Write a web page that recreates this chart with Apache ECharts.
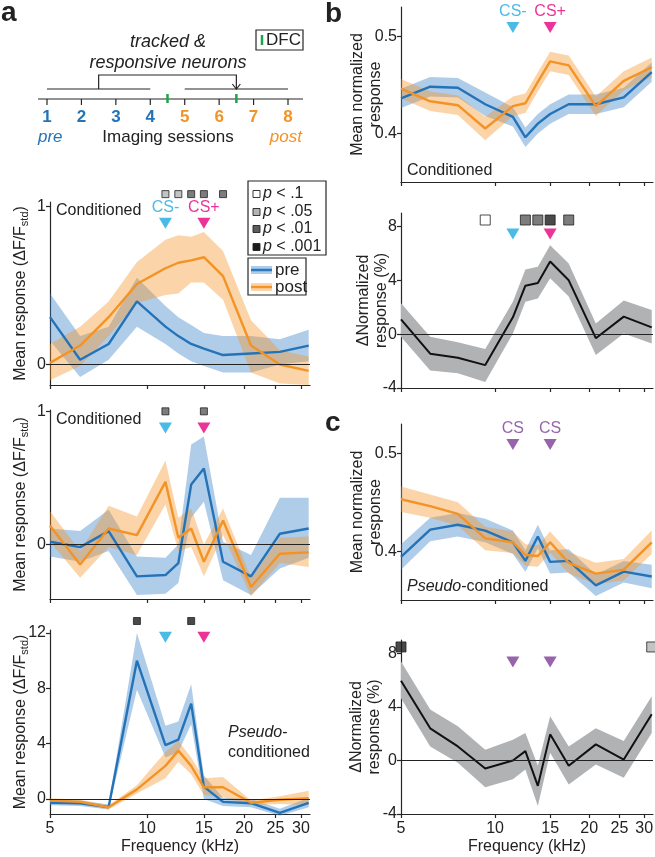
<!DOCTYPE html>
<html>
<head>
<meta charset="utf-8">
<script src="https://cdn.jsdelivr.net/npm/echarts@6/dist/echarts.min.js"></script>
<style>
  html, body { margin: 0; padding: 0; background: #fff; }
  #main { width: 655px; height: 857px; }
</style>
</head>
<body>
<div id="main"></div>
<script>
// frequencies (kHz) of the tones, shared by all panels
var freqs = [5, 6.2, 7.6, 9.3, 11.4, 12.5, 13.7, 15, 17.2, 21, 25.8, 31.7];
var tickFreqs = [5, 10, 15, 20, 25, 30];
var csFreqs = [11.4, 15];
var csLabels = ['CS-', 'CS+'];
var pLabels = ['.1', '.05', '.01', '.001'];
var pColors = ['#ffffff', '#b4b4b4', '#5c5c5c', '#1c1c1c'];
var sessions = [1, 2, 3, 4, 5, 6, 7, 8];
var dfcSessions = [4.5, 6.5];

// a, top: conditioned, population mean
var a1Pre = [0.30, 0.03, 0.13, 0.40, 0.24, 0.18, 0.13, 0.10, 0.06, 0.07, 0.08, 0.12];
var a1PreHi = [0.45, 0.18, 0.24, 0.55, 0.37, 0.30, 0.25, 0.20, 0.18, 0.18, 0.16, 0.22];
var a1PreLo = [0.15, -0.08, 0.03, 0.24, 0.13, 0.07, 0.02, -0.01, -0.05, -0.05, 0.00, 0.02];
var a1Post = [0.01, 0.12, 0.30, 0.51, 0.61, 0.645, 0.66, 0.68, 0.56, 0.12, 0.00, -0.04];
var a1PostHi = [0.13, 0.24, 0.40, 0.65, 0.79, 0.82, 0.81, 0.84, 0.72, 0.28, 0.09, 0.05];
var a1PostLo = [-0.10, -0.01, 0.18, 0.39, 0.44, 0.45, 0.52, 0.52, 0.41, -0.05, -0.12, -0.13];
var a1SigFreqs = [11.4, 12.5, 13.7, 15, 17.2];
var a1SigLevels = [1, 1, 2, 2, 2];

// a, middle: conditioned, example neuron
var a2Pre = [0.02, -0.02, 0.10, -0.24, -0.23, -0.14, 0.45, 0.57, -0.13, -0.24, 0.08, 0.12];
var a2PreHi = [0.12, 0.10, 0.26, -0.09, -0.10, 0.00, 0.75, 0.81, 0.02, -0.08, 0.35, 0.35];
var a2PreLo = [-0.09, -0.13, -0.05, -0.38, -0.37, -0.29, 0.20, 0.32, -0.27, -0.38, -0.18, -0.10];
var a2Post = [0.14, -0.15, 0.12, 0.07, 0.47, 0.05, 0.12, -0.13, 0.18, -0.32, -0.07, -0.06];
var a2PostHi = [0.25, -0.05, 0.29, 0.21, 0.63, 0.20, 0.27, 0.00, 0.27, -0.25, 0.05, 0.06];
var a2PostLo = [0.02, -0.25, -0.02, -0.08, 0.30, -0.05, -0.02, -0.24, 0.07, -0.39, -0.14, -0.17];
var a2SigFreqs = [11.4, 15];
var a2SigLevels = [2, 2];

// a, bottom: pseudo-conditioned example
var a3Pre = [-0.27, -0.3, -0.58, 10.0, 3.9, 4.3, 6.9, 0.9, -0.2, -0.3, -1.0, -0.27];
var a3PreHi = [-0.05, -0.1, -0.4, 12.0, 5.3, 5.6, 8.3, 1.7, 0.1, 0.0, -0.7, 0.1];
var a3PreLo = [-0.45, -0.5, -0.75, 7.9, 3.0, 3.4, 5.4, 0.0, -0.5, -0.6, -1.2, -0.6];
var a3Post = [-0.1, -0.2, -0.6, 0.7, 2.4, 3.5, 2.4, 0.85, 0.85, -0.27, -0.05, 0.07];
var a3PostHi = [0.05, -0.05, -0.45, 1.0, 3.4, 4.2, 3.0, 1.5, 1.6, -0.1, 0.2, 0.6];
var a3PostLo = [-0.25, -0.35, -0.75, 0.4, 1.5, 2.7, 1.8, 0.3, 0.15, -0.45, -0.35, -0.45];
var a3SigFreqs = [9.3, 13.7];
var a3SigLevels = [3, 3];

// b: conditioned, normalized
var b1Pre = [0.436, 0.448, 0.447, 0.430, 0.417, 0.396, 0.410, 0.420, 0.430, 0.430, 0.437, 0.463];
var b1PreSem = [0.010, 0.010, 0.010, 0.012, 0.010, 0.010, 0.010, 0.010, 0.010, 0.010, 0.010, 0.010];
var b1Post = [0.446, 0.433, 0.429, 0.405, 0.428, 0.431, 0.453, 0.474, 0.470, 0.428, 0.454, 0.468];
var b1PostSem = [0.010, 0.010, 0.010, 0.012, 0.010, 0.010, 0.010, 0.010, 0.010, 0.010, 0.010, 0.010];
var b2Diff = [1.1, -1.45, -1.75, -2.3, 1.25, 3.6, 3.8, 5.4, 4.0, -0.3, 1.3, 0.5];
var b2DiffHi = [2.3, -0.2, -0.6, -1.1, 2.4, 4.8, 5.0, 6.6, 5.25, 0.8, 2.5, 1.8];
var b2DiffLo = [-0.2, -2.7, -2.9, -3.55, 0.05, 2.4, 2.65, 4.15, 2.8, -1.55, 0.05, -0.7];
var b2SigFreqs = [9.3, 12.5, 13.7, 15, 17.2];
var b2SigLevels = [0, 2, 2, 3, 2];

// c: pseudo-conditioned, normalized
var c1Pre = [0.394, 0.422, 0.427, 0.421, 0.409, 0.390, 0.415, 0.389, 0.390, 0.365, 0.379, 0.374];
var c1PreSem = [0.013, 0.012, 0.012, 0.012, 0.012, 0.011, 0.012, 0.012, 0.012, 0.011, 0.011, 0.012];
var c1Post = [0.453, 0.446, 0.438, 0.413, 0.409, 0.396, 0.395, 0.409, 0.388, 0.377, 0.381, 0.409];
var c1PostSem = [0.013, 0.012, 0.012, 0.012, 0.011, 0.011, 0.011, 0.011, 0.011, 0.011, 0.011, 0.012];
var c2Diff = [5.95, 2.4, 1.05, -0.6, 0.0, 0.7, -1.9, 1.95, -0.4, 1.2, 0.07, 3.45];
var c2DiffHi = [7.4, 3.8, 2.55, 0.8, 1.55, 2.05, -0.4, 3.3, 1.05, 2.4, 1.45, 4.8];
var c2DiffLo = [4.65, 1.05, -0.17, -2.0, -1.4, -0.67, -3.4, 0.57, -1.8, -0.3, -1.3, 2.05];
var c2SigFreqs = [5, 31.7];
var c2SigLevels = [3, 1];

var FONT = 'Liberation Sans, Arial, Helvetica, sans-serif';
var BLUE = '#2473b8', ORANGE = '#f39325';
var BLUE_BAND = 'rgba(56,128,200,0.40)', ORANGE_BAND = 'rgba(245,150,40,0.40)';
var GRAY_BAND = '#b0b2b4';
var CYAN = '#1ea9e1', MAGENTA = '#e6007e', PURPLE = '#7d3c98';
var AXIS = '#262626';
var XMAX = Math.log2(32 / 5);

function lx(f) { return Math.log2(f / 5); }
function addSem(m, s, k) { return m.map(function (v, i) { return v + k * s[i]; }); }

var chart = echarts.init(document.getElementById('main'), null, { renderer: 'canvas' });

// grid boxes: a1, a2, a3, b1, b2, c1, c2
var grids = [
  { left: 50, top: 202, width: 260, height: 183 },
  { left: 50, top: 410, width: 260, height: 189 },
  { left: 50, top: 630, width: 260, height: 184 },
  { left: 401, top: 7, width: 252, height: 175 },
  { left: 401, top: 213, width: 252, height: 175 },
  { left: 401, top: 424, width: 252, height: 176 },
  { left: 401, top: 640, width: 252, height: 174 }
];
var yRanges = [[-0.13, 1.03], [-0.41, 1.01], [-1.08, 12.22], [0.35, 0.53], [-4, 9], [0.35, 0.53], [-4, 9]];
var yTicks = [[0, 1], [0, 1], [0, 4, 8, 12], [0.4, 0.5], [-4, 0, 4, 8], [0.4, 0.5], [-4, 0, 4, 8]];
var subStd = 'Mean response (ΔF/F{s|std})';
var yNames = [subStd, subStd, subStd, 'Mean normalized\nresponse', 'ΔNormalized\nresponse (%)',
  'Mean normalized\nresponse', 'ΔNormalized\nresponse (%)'];
var yNameGaps = [20, 20, 20, 16, 10, 16, 17];

var xAxes = [], yAxes = [];
for (var g = 0; g < grids.length; g++) {
  grids[g].containLabel = false;
  grids[g].outerBoundsMode = 'none';
  var showX = (g === 2 || g === 6);
  xAxes.push({
    type: 'value', gridIndex: g, min: 0, max: XMAX,
    axisLine: { show: true, onZero: false, lineStyle: { color: AXIS, width: 1.2 } },
    axisTick: { show: true, customValues: tickFreqs.map(lx), length: 4, lineStyle: { color: AXIS, width: 1.2 } },
    axisLabel: {
      show: showX, customValues: tickFreqs.map(lx), margin: 7,
      fontSize: 16, color: '#222', fontFamily: FONT,
      formatter: function (v) { return String(Math.round(5 * Math.pow(2, v))); }
    },
    splitLine: { show: false },
    name: showX ? 'Frequency (kHz)' : '',
    nameLocation: 'middle', nameGap: 25, nameMoveOverlap: false,
    nameTextStyle: { fontSize: 16, color: '#222', fontFamily: FONT }
  });
  yAxes.push({
    type: 'value', gridIndex: g, min: yRanges[g][0], max: yRanges[g][1],
    axisLine: { show: true, onZero: false, lineStyle: { color: AXIS, width: 1.2 } },
    axisTick: { show: true, customValues: yTicks[g], length: 4, lineStyle: { color: AXIS, width: 1.2 } },
    axisLabel: { customValues: yTicks[g], margin: 4, fontSize: 16, color: '#222', fontFamily: FONT },
    splitLine: { show: false },
    name: yNames[g], nameLocation: 'middle', nameRotate: 90, nameGap: yNameGaps[g],
    nameMoveOverlap: false,
    nameTextStyle: {
      fontSize: 16, color: '#222', fontFamily: FONT, lineHeight: 18,
      rich: {
        s: { fontSize: 11, fontFamily: FONT, color: '#222', verticalAlign: 'bottom', lineHeight: 10 }
      }
    }
  });
}

// shaded error band as a polygon through the axis scales
function band(gi, lo, hi, color) {
  return {
    type: 'custom', xAxisIndex: gi, yAxisIndex: gi, silent: true, z: 1,
    data: [[0, 0]],
    renderItem: function (params, api) {
      var pts = [];
      for (var i = 0; i < freqs.length; i++) pts.push(api.coord([lx(freqs[i]), hi[i]]));
      for (var j = freqs.length - 1; j >= 0; j--) pts.push(api.coord([lx(freqs[j]), lo[j]]));
      return { type: 'polygon', shape: { points: pts }, style: { fill: color } };
    }
  };
}

function line(gi, vals, color, width, zero) {
  var s = {
    type: 'line', xAxisIndex: gi, yAxisIndex: gi, z: 3,
    data: vals.map(function (v, i) { return [lx(freqs[i]), v]; }),
    symbol: 'none', silent: true,
    lineStyle: { color: color, width: width }
  };
  if (zero) {
    s.markLine = {
      silent: true, symbol: ['none', 'none'], label: { show: false },
      lineStyle: { color: '#222', width: 1.1, type: 'solid' },
      data: [{ yAxis: 0 }], animation: false
    };
  }
  return s;
}

// significance squares
function sig(gi, fs, levels, y, size) {
  return {
    type: 'scatter', xAxisIndex: gi, yAxisIndex: gi, z: 5, clip: false, silent: true,
    symbol: 'rect', symbolSize: size,
    data: fs.map(function (f, i) {
      return { value: [lx(f), y], itemStyle: { color: pColors[levels[i]], borderColor: '#222', borderWidth: 1 } };
    })
  };
}

// CS markers (downward triangles)
function cs(gi, y, colors, labels) {
  return {
    type: 'scatter', xAxisIndex: gi, yAxisIndex: gi, z: 5, clip: false, silent: true,
    symbol: 'triangle', symbolRotate: 180, symbolSize: [13, 11],
    data: csFreqs.map(function (f, i) {
      return {
        value: [lx(f), y],
        itemStyle: { color: colors[i] },
        label: {
          show: !!labels, position: 'top', distance: 2,
          formatter: labels ? labels[i] : '', color: colors[i], fontSize: 16, fontFamily: FONT
        }
      };
    })
  };
}

var series = [
  // a1
  band(0, a1PreLo, a1PreHi, BLUE_BAND), band(0, a1PostLo, a1PostHi, ORANGE_BAND),
  line(0, a1Pre, BLUE, 2.4, true), line(0, a1Post, ORANGE, 2.4, false),
  sig(0, a1SigFreqs, a1SigLevels, 1.08, 7), cs(0, 0.895, [CYAN, MAGENTA], csLabels),
  // a2
  band(1, a2PreLo, a2PreHi, BLUE_BAND), band(1, a2PostLo, a2PostHi, ORANGE_BAND),
  line(1, a2Pre, BLUE, 2.4, true), line(1, a2Post, ORANGE, 2.4, false),
  sig(1, a2SigFreqs, a2SigLevels, 1.0, 7), cs(1, 0.875, [CYAN, MAGENTA], null),
  // a3
  band(2, a3PreLo, a3PreHi, BLUE_BAND), band(2, a3PostLo, a3PostHi, ORANGE_BAND),
  line(2, a3Pre, BLUE, 2.4, true), line(2, a3Post, ORANGE, 2.4, false),
  sig(2, a3SigFreqs, a3SigLevels, 12.87, 7), cs(2, 11.7, [CYAN, MAGENTA], null),
  // b1
  band(3, addSem(b1Pre, b1PreSem, -1), addSem(b1Pre, b1PreSem, 1), BLUE_BAND),
  band(3, addSem(b1Post, b1PostSem, -1), addSem(b1Post, b1PostSem, 1), ORANGE_BAND),
  line(3, b1Pre, BLUE, 2.4, false), line(3, b1Post, ORANGE, 2.4, false),
  cs(3, 0.509, [CYAN, MAGENTA], csLabels),
  // b2
  band(4, b2DiffLo, b2DiffHi, GRAY_BAND), line(4, b2Diff, '#111', 2, true),
  sig(4, b2SigFreqs, b2SigLevels, 8.48, 10), cs(4, 7.44, [CYAN, MAGENTA], null),
  // c1
  band(5, addSem(c1Pre, c1PreSem, -1), addSem(c1Pre, c1PreSem, 1), BLUE_BAND),
  band(5, addSem(c1Post, c1PostSem, -1), addSem(c1Post, c1PostSem, 1), ORANGE_BAND),
  line(5, c1Pre, BLUE, 2.4, false), line(5, c1Post, ORANGE, 2.4, false),
  cs(5, 0.509, [PURPLE, PURPLE], ['CS', 'CS']),
  // c2
  band(6, c2DiffLo, c2DiffHi, GRAY_BAND), line(6, c2Diff, '#111', 2, true),
  sig(6, c2SigFreqs, c2SigLevels, 8.48, 10), cs(6, 7.36, [PURPLE, PURPLE], null)
];

// ---- schematic, legends and panel text ----
function txt(x, y, text, opt) {
  opt = opt || {};
  return {
    type: 'text', x: x, y: y, z: 100, silent: true,
    style: {
      text: text, fill: opt.fill || '#222',
      font: (opt.style || '') + ' ' + (opt.weight || 'normal') + ' ' + (opt.size || 16) + 'px ' + FONT,
      textAlign: opt.align || 'left', textVerticalAlign: 'middle', rich: opt.rich
    }
  };
}
function seg(x1, y1, x2, y2, color, w) {
  return { type: 'line', z: 100, silent: true, shape: { x1: x1, y1: y1, x2: x2, y2: y2 },
    style: { stroke: color || AXIS, lineWidth: w || 1.2 } };
}
function sx(s) { return 47 + (s - 1) * (288 - 47) / 7; }
var italicRich = { i: { fontStyle: 'italic', fontSize: 16, fontFamily: FONT } };

var gfx = [];
gfx.push(txt(1, 13, 'a', { weight: 'bold', size: 28 }));
gfx.push(txt(325, 14, 'b', { weight: 'bold', size: 28 }));
gfx.push(txt(325, 423, 'c', { weight: 'bold', size: 28 }));

// imaging timeline
gfx.push(seg(38, 99, 303, 99));
sessions.forEach(function (s) {
  gfx.push(seg(sx(s), 99, sx(s), 105));
  gfx.push(txt(sx(s), 117, String(s), { weight: 'bold', size: 17, align: 'center', fill: s <= 4 ? BLUE : ORANGE }));
});
dfcSessions.forEach(function (s) { gfx.push(seg(sx(s), 94, sx(s), 103, '#1fa34a', 2.5)); });
gfx.push(seg(sx(1), 89, sx(4), 89));
gfx.push(seg(sx(5), 89, sx(8), 89));
gfx.push({ type: 'polyline', z: 100, silent: true,
  shape: { points: [[sx(2.5), 89], [sx(2.5), 75], [sx(6.5), 75], [sx(6.5), 89]] },
  style: { stroke: AXIS, lineWidth: 1.2, fill: null } });
gfx.push({ type: 'polyline', z: 100, silent: true,
  shape: { points: [[sx(6.5) - 4, 84], [sx(6.5), 89], [sx(6.5) + 4, 84]] },
  style: { stroke: AXIS, lineWidth: 1.2, fill: null } });
gfx.push(txt(168, 42, 'tracked &', { style: 'italic', size: 18, align: 'center' }));
gfx.push(txt(168, 63, 'responsive neurons', { style: 'italic', size: 18, align: 'center' }));
gfx.push({ type: 'rect', z: 100, silent: true, shape: { x: 256, y: 30, width: 47, height: 20 },
  style: { fill: '#fff', stroke: AXIS, lineWidth: 1.2 } });
gfx.push(seg(262, 35, 262, 45, '#1fa34a', 2.5));
gfx.push(txt(266, 40, 'DFC', { size: 17 }));
gfx.push(txt(38, 137, 'pre', { style: 'italic', size: 17, fill: BLUE }));
gfx.push(txt(168, 137, 'Imaging sessions', { size: 17, align: 'center' }));
gfx.push(txt(302, 137, 'post', { style: 'italic', size: 17, fill: ORANGE, align: 'right' }));

// panel annotations
gfx.push(txt(56, 211, 'Conditioned', { size: 16 }));
gfx.push(txt(56, 420, 'Conditioned', { size: 16 }));
gfx.push(txt(228, 733, '{i|Pseudo}-', { size: 16, rich: italicRich }));
gfx.push(txt(228, 753, 'conditioned', { size: 16 }));
gfx.push(txt(407, 171, 'Conditioned', { size: 16 }));
gfx.push(txt(407, 587, '{i|Pseudo}-conditioned', { size: 16, rich: italicRich }));

// p-value legend
gfx.push({ type: 'rect', z: 100, silent: true, shape: { x: 248, y: 181, width: 78, height: 74 },
  style: { fill: '#fff', stroke: AXIS, lineWidth: 1.2 } });
var pRows = [194, 212, 229, 247];
pLabels.forEach(function (lab, i) {
  gfx.push({ type: 'rect', z: 101, silent: true, shape: { x: 253, y: pRows[i] - 3.5, width: 7, height: 7 },
    style: { fill: pColors[i], stroke: '#222', lineWidth: 0.9 } });
  gfx.push(txt(263, pRows[i], '{i|p} < ' + lab, { size: 16, rich: italicRich }));
});

// pre / post legend
gfx.push({ type: 'rect', z: 100, silent: true, shape: { x: 248, y: 258, width: 58, height: 37 },
  style: { fill: '#fff', stroke: AXIS, lineWidth: 1.2 } });
[['pre', 270, BLUE, BLUE_BAND], ['post', 287, ORANGE, ORANGE_BAND]].forEach(function (r) {
  gfx.push({ type: 'rect', z: 101, silent: true, shape: { x: 251, y: r[1] - 4, width: 21, height: 8 },
    style: { fill: r[3] } });
  gfx.push(seg(251, r[1], 272, r[1], r[2], 2.5));
  gfx.push(txt(275, r[1], r[0], { size: 17 }));
});

chart.setOption({
  animation: false,
  backgroundColor: '#fff',
  textStyle: { fontFamily: FONT },
  grid: grids,
  xAxis: xAxes,
  yAxis: yAxes,
  series: series,
  graphic: gfx
});
</script>
</body>
</html>
